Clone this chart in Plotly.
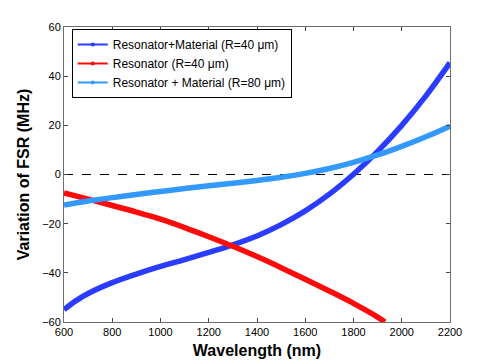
import plotly.graph_objects as go

# wavelength samples (nm) and FSR variation (MHz)
wl_rm40 = [600, 650, 700, 800, 900, 1000, 1100, 1200, 1300, 1400, 1500, 1600, 1700, 1800, 1900, 2000, 2100, 2200]
fsr_rm40 = [-55, -51.3, -48.4, -44, -40.5, -37.4, -34.6, -31.7, -28.6, -25, -20.4, -14.8, -8.0, 0.1, 9.4, 20.0, 32.0, 45.5]

wl_r40 = [600, 700, 800, 900, 1000, 1100, 1200, 1300, 1400, 1500, 1600, 1700, 1800, 1900, 1930]
fsr_r40 = [-7.5, -10.0, -12.6, -15.3, -18.2, -21.6, -25.3, -29.2, -33.4, -37.9, -42.6, -47.4, -52.4, -58.0, -60]

wl_rm80 = [600, 700, 800, 900, 1000, 1100, 1200, 1300, 1400, 1500, 1600, 1700, 1800, 1900, 2000, 2100, 2200]
fsr_rm80 = [-12.4, -10.8, -9.4, -8.1, -6.9, -5.7, -4.6, -3.55, -2.45, -1.15, 0.45, 2.45, 4.95, 7.95, 11.45, 15.35, 19.65]

names = ["Resonator+Material (R=40 μm)", "Resonator (R=40 μm)", "Resonator + Material (R=80 μm)"]
colors = ["#2a3cff", "#ff0a0a", "#3399ff"]

fig = go.Figure()

# zero reference line
fig.add_trace(go.Scatter(x=[600, 2200], y=[0, 0], mode="lines",
                         line=dict(color="black", width=1.2, dash="dash"),
                         showlegend=False, hoverinfo="skip"))

series = [(wl_rm40, fsr_rm40), (wl_r40, fsr_r40), (wl_rm80, fsr_rm80)]
for (x, y), c in zip(series, colors):
    fig.add_trace(go.Scatter(x=x, y=y, mode="lines",
                             line=dict(color=c, width=5.5, shape="spline", smoothing=1),
                             showlegend=False))

# legend entries
for n, c in zip(names, colors):
    fig.add_trace(go.Scatter(x=[None], y=[None], mode="lines+markers", name=n,
                             line=dict(color=c, width=2), marker=dict(color=c, size=4)))

axis_common = dict(showgrid=False, zeroline=False, showline=True, linecolor="#6e6e6e",
                   linewidth=1, mirror="ticks", ticks="inside", ticklen=4, tickcolor="#444444",
                   automargin=False,
                   tickfont=dict(family="Liberation Sans, Arial", size=11, color="black"))

# page body adds an 8px margin, so the figure is 8px smaller than the window
fig.update_layout(
    width=490, height=354,
    margin=dict(l=56, r=48, t=19, b=40),
    plot_bgcolor="white", paper_bgcolor="white",
    font=dict(family="Liberation Sans, Arial", color="black"),
    xaxis=dict(range=[600, 2200], tickvals=list(range(600, 2201, 200)),
               title=dict(text="<b>Wavelength (nm)</b>", font=dict(size=16), standoff=7),
               **axis_common),
    yaxis=dict(range=[-60, 60], tickvals=list(range(-60, 61, 20)),
               title=dict(text="<b>Variation of FSR (MHz)</b>", font=dict(size=16), standoff=8),
               **axis_common),
    legend=dict(x=0.02, y=0.993, xanchor="left", yanchor="top",
                bordercolor="black", borderwidth=1, bgcolor="white",
                font=dict(size=12), tracegroupgap=0, itemwidth=30),
)

fig.write_html("out.html")
